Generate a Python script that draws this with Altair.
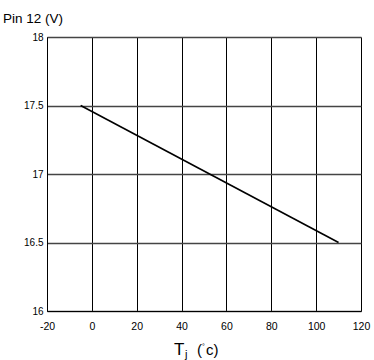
import altair as alt
import pandas as pd

tj = [-5, 110]
pin12 = [17.5, 16.5]
x_ticks = [-20, 0, 20, 40, 60, 80, 100, 120]
y_ticks = [16, 16.5, 17, 17.5, 18]

df = pd.DataFrame({"tj": tj, "v": pin12})
one = pd.DataFrame({"k": [0]})
FONT = "Liberation Sans"

x_scale = alt.Scale(domain=[-20, 120], nice=False, zero=False)
y_scale = alt.Scale(domain=[16, 18], nice=False, zero=False)

line = alt.Chart(df).mark_line(color="black", strokeWidth=1.6).encode(
    x=alt.X("tj:Q", scale=x_scale, title=None,
            axis=alt.Axis(values=x_ticks, grid=True, gridColor="black", gridWidth=1,
                          gridOpacity=1, ticks=False, labelFontSize=10.5, labelPadding=10,
                          labelFont=FONT, labelColor="black", domainColor="black",
                          labelFlush=False, labelExpr="replace(datum.label, '−', '-')")),
    y=alt.Y("v:Q", scale=y_scale, title=None,
            axis=alt.Axis(values=y_ticks, grid=True, gridColor="#444", gridWidth=1.4,
                          gridOpacity=1, ticks=False, labelFontSize=10, labelPadding=4,
                          labelFont=FONT, labelColor="black", domainColor="black",
                          labelFlush=False, format="~g")),
)


def txt(s, size, x, y):
    return alt.Chart(one).mark_text(text=s, font=FONT, fontSize=size, fontWeight="normal",
                                    align="left", baseline="alphabetic", color="black").encode(
        x=alt.value(x), y=alt.value(y))


title = txt("Pin 12 (V)", 13.5, -44, -14)
tT = txt("T", 17, 127, 318)
tj_ = txt("j", 11, 138, 321)
tP = txt("(", 15, 150, 318)
tD = txt("°", 7, 155, 312)
tC = txt("c)", 15, 159, 318)

chart = alt.layer(line, title, tT, tj_, tP, tD, tC).properties(
    width=314, height=274,
    autosize=alt.AutoSizeParams(type="none"),
    padding={"left": 47, "top": 37, "right": 13, "bottom": 49},
).configure_view(stroke="black", strokeWidth=1).configure(background="white")

chart.save("out.html", embed_options={"renderer": "svg", "actions": False})
